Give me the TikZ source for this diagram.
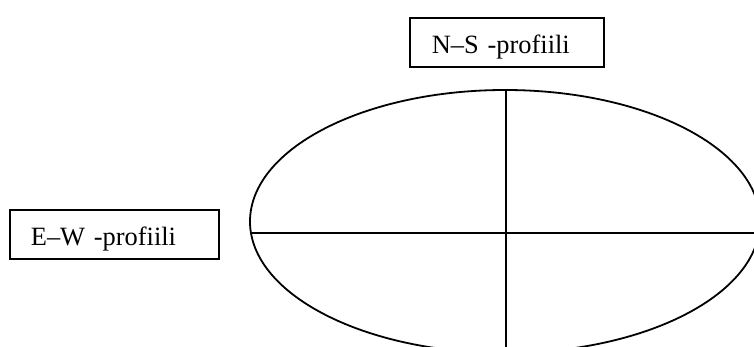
\documentclass[tikz,border=0pt]{standalone}
\usepackage{fontspec}
\setmainfont{Liberation Serif}
\begin{document}
\begin{tikzpicture}[x=1pt,y=-1pt,
  line/.style={line width=1.8pt,black},
  labelbox/.style={draw,line width=1.8pt,anchor=north west,inner ysep=0pt,
    minimum height=49pt,text height=30pt,text depth=7pt,align=left,
    font=\fontsize{26.4pt}{30pt}\selectfont}]
\useasboundingbox (0,0) rectangle (754,347);
\begin{scope}
\clip (0,0) rectangle (754,347);
\draw[line] (505,221.5) ellipse [x radius=255, y radius=131.5];
\coordinate (hl) at (250,233);
\coordinate (hr) at (756,233);
\coordinate (vt) at (506,90);
\coordinate (vb) at (506,349);
\draw[line] (hl) -- (hr);
\draw[line] (vt) -- (vb);
\end{scope}
\node[labelbox,inner xsep=22pt,text width=150pt] (ns) at (409,17) {N–S -profiili};
\node[labelbox,inner xsep=21pt,text width=167pt] (ew) at (9,209) {E–W -profiili};
\end{tikzpicture}
\end{document}
